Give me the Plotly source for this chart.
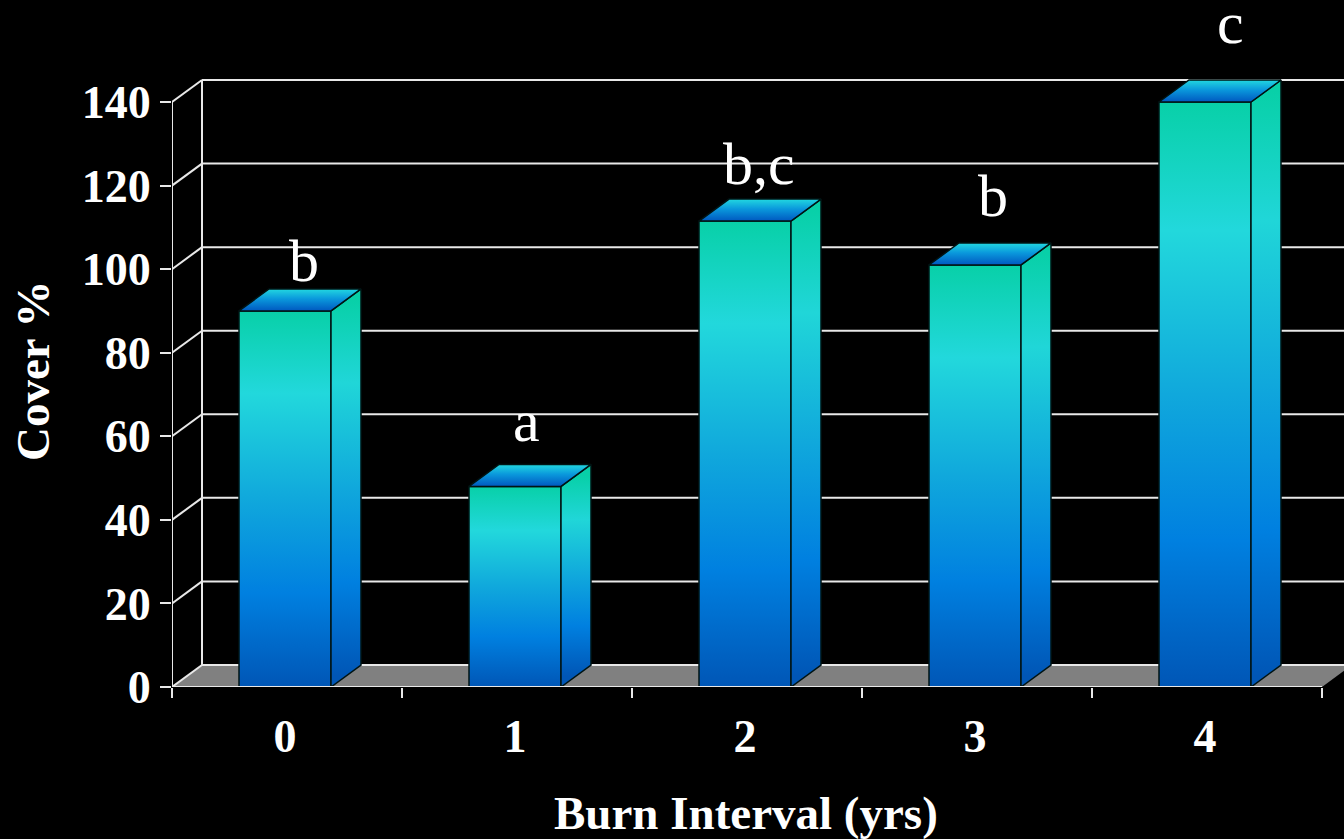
import plotly.graph_objects as go

# ---- data ----
categories = ["0", "1", "2", "3", "4"]
cover = [90, 48, 111.5, 101, 140]
letters = ["b", "a", "b,c", "b", "c"]
letter_dx = [0.074, 0.043, 0.052, 0.070, 0.104]   # label offset from category centre
letter_y = [101.9, 63.7, 125.2, 117.5, 159.0]     # label centre height
y_ticks = [0, 20, 40, 60, 80, 100, 120, 140]

# ---- style / geometry ----
FONT = "Liberation Serif"
DX = 30 / 230          # depth offset in category units
DY = 22 / (585 / 140)  # depth offset in value units
HW = 0.2               # half bar width
SHIFT = -2 / 230       # bars sit slightly left of the category centre
XMIN, XMAX = -0.5, -0.5 + 1172 / 230
YMAX = 687 / (585 / 140)
YTOP = max(y_ticks)

front_scale = [[0.0, "#0056b6"], [0.25, "#0080e0"], [0.5, "#10a8dc"],
               [0.78, "#22d8dc"], [1.0, "#08d0a8"]]
side_scale = [[0.0, "#0056b6"], [0.25, "#0080e0"], [0.5, "#10a8dc"],
              [0.78, "#20d6d8"], [1.0, "#08d0a8"]]
top_scale = [[0.0, "#0058c0"], [0.55, "#0a98dc"], [1.0, "#22d8e0"]]
EDGE = dict(color="#001414", width=1.5)
WHITE = "#e8e8e8"

fig = go.Figure()
n = len(categories)

# bars: front, side, top faces
for i, v in enumerate(cover):
    x0, x1 = i + SHIFT - HW, i + SHIFT + HW
    fig.add_trace(go.Scatter(
        x=[x0, x1, x1, x0, x0], y=[0, 0, v, v, 0], mode="lines",
        fill="toself", line=EDGE, hoverinfo="skip", showlegend=False,
        fillgradient=dict(type="vertical", colorscale=front_scale, start=0, stop=v)))
    fig.add_trace(go.Scatter(
        x=[x1, x1 + DX, x1 + DX, x1, x1], y=[0, DY, v + DY, v, 0], mode="lines",
        fill="toself", line=EDGE, hoverinfo="skip", showlegend=False,
        fillgradient=dict(type="vertical", colorscale=side_scale, start=DY / 2, stop=v + DY / 2)))
    fig.add_trace(go.Scatter(
        x=[x0, x1, x1 + DX, x0 + DX, x0], y=[v, v, v + DY, v + DY, v], mode="lines",
        fill="toself", line=EDGE, hoverinfo="skip", showlegend=False,
        fillgradient=dict(type="vertical", colorscale=top_scale, start=v, stop=v + DY)))

shapes = []
# floor
shapes.append(dict(type="path", layer="below", xref="x", yref="y",
                   path=f"M {XMIN},0 L {n - 0.5},0 L {n - 0.5 + DX},{DY} L {XMIN + DX},{DY} Z",
                   fillcolor="#808080", line=dict(width=0)))
# back wall gridlines + side wall diagonals
for t in y_ticks:
    shapes.append(dict(type="line", layer="below", xref="x", yref="y",
                       x0=XMIN + DX, x1=XMAX, y0=t + DY, y1=t + DY,
                       line=dict(color=WHITE, width=2)))
    shapes.append(dict(type="line", layer="below", xref="x", yref="y",
                       x0=XMIN, x1=XMIN + DX, y0=t, y1=t + DY,
                       line=dict(color=WHITE, width=2)))
# back wall left edge
shapes.append(dict(type="line", layer="below", xref="x", yref="y",
                   x0=XMIN + DX, x1=XMIN + DX, y0=DY, y1=YTOP + DY,
                   line=dict(color=WHITE, width=2)))
# front value axis
shapes.append(dict(type="line", layer="below", xref="x", yref="y",
                   x0=XMIN, x1=XMIN, y0=0, y1=YTOP,
                   line=dict(color=WHITE, width=2)))
# front category axis
shapes.append(dict(type="line", layer="above", xref="x", yref="y",
                   x0=XMIN, x1=n - 0.5, y0=0, y1=0,
                   line=dict(color=WHITE, width=2)))
fig.update_layout(shapes=shapes)

# letters
for i, (lab, dx, ly) in enumerate(zip(letters, letter_dx, letter_y)):
    fig.add_annotation(x=i + dx, y=ly, xref="x", yref="y", text=lab, showarrow=False,
                       xanchor="center", yanchor="middle",
                       font=dict(family=FONT, size=60, color="white"))

# axis titles
fig.add_annotation(xref="paper", yref="paper", x=(33 - 172) / 1172, y=(687 - 371) / 687,
                   text="<b>Cover %</b>", textangle=-90, showarrow=False,
                   xanchor="center", yanchor="middle",
                   font=dict(family=FONT, size=47, color="white"))
fig.add_annotation(xref="paper", yref="paper", x=(746 - 172) / 1172, y=(687 - 813) / 687,
                   text="<b>Burn Interval (yrs)</b>", showarrow=False,
                   xanchor="center", yanchor="middle",
                   font=dict(family=FONT, size=47, color="white"))

fig.update_xaxes(range=[XMIN, XMAX], tickvals=[k + SHIFT for k in range(n)],
                 ticktext=[f"<b>{c}</b>" for c in categories],
                 ticks="", showgrid=False, zeroline=False, showline=False,
                 ticklabelstandoff=18,
                 tickfont=dict(family=FONT, size=46, color="white"),
                 minor=dict(tickvals=[k - 0.5 for k in range(n + 1)], ticks="outside",
                            ticklen=10, tickwidth=2, tickcolor=WHITE, showgrid=False))
fig.update_yaxes(range=[0, YMAX], tickvals=y_ticks,
                 ticktext=[f"<b>{t}</b>" for t in y_ticks],
                 ticks="outside", ticklen=11, tickwidth=2, tickcolor=WHITE,
                 showgrid=False, zeroline=False, showline=False,
                 tickfont=dict(family=FONT, size=46, color="white"))

fig.update_layout(width=1344, height=839, autosize=False,
                  margin=dict(l=172, r=0, t=0, b=152),
                  paper_bgcolor="black", plot_bgcolor="black",
                  showlegend=False)

fig.write_html("out.html",
               config={"displayModeBar": False},
               post_script="document.body.style.margin='0';"
                           "document.body.style.background='black';"
                           "document.body.style.overflow='hidden';")
